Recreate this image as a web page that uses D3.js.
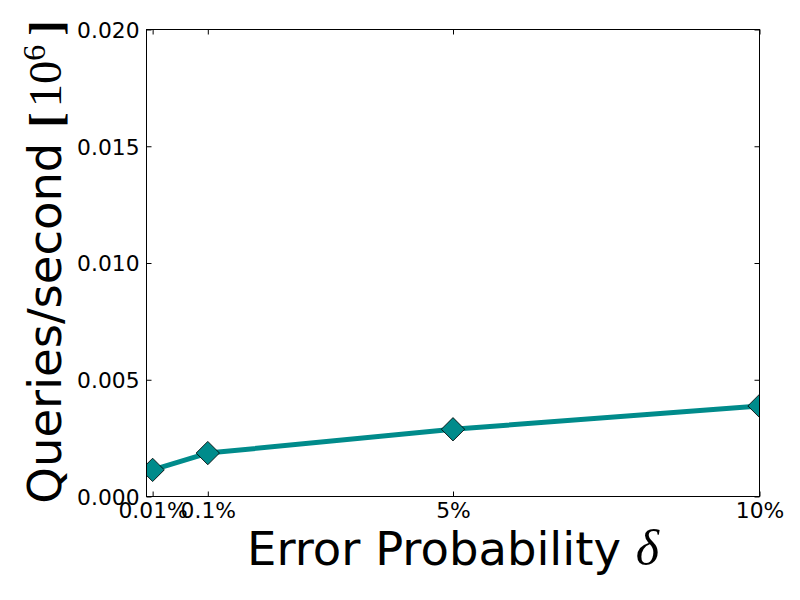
<!DOCTYPE html>
<html>
<head>
<meta charset="utf-8">
<script src="https://cdn.jsdelivr.net/npm/d3@7"></script>
<style>
  html, body { margin: 0; padding: 0; background: #fff; }
  svg { display: block; }
</style>
</head>
<body>
<svg id="chart" width="800" height="600"></svg>
<script>
// Data
const xPositions = [0.1, 1, 5, 10];
const xTickLabels = ["0.01%", "0.1%", "5%", "10%"];
const qps = [0.00114, 0.00186, 0.00288, 0.00388];
const yTicks = [0.000, 0.005, 0.010, 0.015, 0.020];

const svg = d3.select("#chart");
const W = 800, H = 600;
const m = { left: 146.5, right: 759.5, top: 29.5, bottom: 496.5 };

const x = d3.scaleLinear().domain([0, 10]).range([m.left, m.right]);
const y = d3.scaleLinear().domain([0, 0.02]).range([m.bottom, m.top]);

svg.append("rect").attr("width", W).attr("height", H).attr("fill", "#fff");

svg.append("defs").append("clipPath").attr("id", "clip")
  .append("rect")
  .attr("x", m.left).attr("y", m.top)
  .attr("width", m.right - m.left).attr("height", m.bottom - m.top);

const tickFont = "DejaVu Sans";
const tickSize = "21.8px";
const tickLen = 5;

// Axes (ticks inside on all four sides)
const axisBottom = d3.axisBottom(x).tickValues(xPositions)
  .tickFormat((d, i) => xTickLabels[i]).tickSizeInner(-tickLen).tickSizeOuter(0).tickPadding(10);
const gB = svg.append("g").attr("transform", `translate(0,${m.bottom})`).call(axisBottom);
gB.select(".domain").remove();
gB.selectAll("text").attr("font-family", tickFont).attr("font-size", tickSize)
  .attr("fill", "#000").attr("dy", "0").attr("y", 21.5);

const axisTop = d3.axisTop(x).tickValues(xPositions).tickFormat("").tickSizeInner(-tickLen).tickSizeOuter(0);
const gT = svg.append("g").attr("transform", `translate(0,${m.top})`).call(axisTop);
gT.select(".domain").remove();

const axisLeft = d3.axisLeft(y).tickValues(yTicks).tickFormat(d3.format(".3f"))
  .tickSizeInner(-tickLen).tickSizeOuter(0).tickPadding(7);
const gL = svg.append("g").attr("transform", `translate(${m.left},0)`).call(axisLeft);
gL.select(".domain").remove();
gL.selectAll("text").attr("font-family", tickFont).attr("font-size", tickSize)
  .attr("fill", "#000").attr("dy", "0.36em");

const axisRight = d3.axisRight(y).tickValues(yTicks).tickFormat("").tickSizeInner(-tickLen).tickSizeOuter(0);
const gR = svg.append("g").attr("transform", `translate(${m.right},0)`).call(axisRight);
gR.select(".domain").remove();

svg.selectAll(".tick line").attr("stroke", "#000").attr("stroke-width", 1);

// Line and markers
const data = xPositions.map((d, i) => ({ x: d, y: qps[i] }));
const plot = svg.append("g").attr("clip-path", "url(#clip)");
plot.append("path").datum(data)
  .attr("fill", "none").attr("stroke", "#008b8b").attr("stroke-width", 5)
  .attr("stroke-linejoin", "round")
  .attr("d", d3.line().x(d => x(d.x)).y(d => y(d.y)));

const dsym = d3.symbol().type(d3.symbolSquare).size(16.5 * 16.5);
plot.selectAll("path.mk").data(data).enter().append("path")
  .attr("class", "mk")
  .attr("d", dsym)
  .attr("transform", d => `translate(${x(d.x)},${y(d.y)}) rotate(45)`)
  .attr("fill", "#008b8b").attr("stroke", "#000").attr("stroke-width", 0.8);

// Frame
svg.append("rect")
  .attr("x", m.left).attr("y", m.top)
  .attr("width", m.right - m.left).attr("height", m.bottom - m.top)
  .attr("fill", "none").attr("stroke", "#000").attr("stroke-width", 1);

// X label
const xl = svg.append("text")
  .attr("x", (m.left + m.right) / 2).attr("y", 565)
  .attr("text-anchor", "middle")
  .attr("font-family", "DejaVu Sans").attr("font-size", "46.5px").attr("fill", "#000");
xl.append("tspan").text("Error Probability ");
xl.append("tspan").attr("font-family", "Liberation Serif").attr("font-style", "italic").attr("font-size", "50px").text("δ");

// Y label
const yl = svg.append("text")
  .attr("transform", `translate(61,${(m.top + m.bottom) / 2 - 1}) rotate(-90)`)
  .attr("text-anchor", "middle")
  .attr("font-family", "DejaVu Sans").attr("font-size", "46.5px").attr("fill", "#000");
yl.append("tspan").text("Queries/second ");
yl.append("tspan").attr("font-family", "Liberation Serif").attr("font-weight", "bold").text("[");
yl.append("tspan").attr("font-family", "Liberation Serif").attr("dx", 5).text("10");
yl.append("tspan").attr("font-family", "Liberation Serif").attr("font-size", "32px").attr("dy", -16).text("6");
yl.append("tspan").attr("font-family", "Liberation Serif").attr("font-weight", "bold").attr("dy", 16).attr("dx", 9).text("]");
</script>
</body>
</html>
